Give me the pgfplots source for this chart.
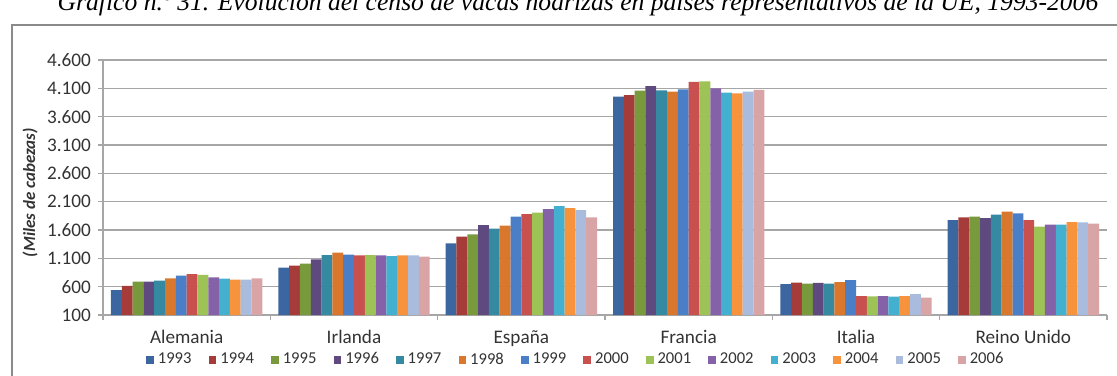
\documentclass[border=0pt]{standalone}
\usepackage{pgfplots}
\pgfplotsset{compat=1.18}
\usepackage{pgfplotstable}
\usepackage{fontspec}
\setmainfont{Carlito}
\newfontfamily\titlefont{Liberation Serif}

% Suckler cow census, thousands of head
\pgfplotstableread{
cat  y1993 y1994 y1995 y1996 y1997 y1998 y1999 y2000 y2001 y2002 y2003 y2004 y2005 y2006
0    541   612   688   688   706   747   794   823   806   765   741   723   723   747
1    935   970   1006  1082  1158  1200  1164  1153  1158  1153  1141  1153  1153  1129
2    1364  1482  1523  1688  1623  1676  1835  1882  1905  1970  2023  1988  1952  1823
3    3953  3982  4059  4141  4065  4041  4082  4212  4224  4100  4024  4012  4041  4071
4    647   670   653   665   653   682   717   435   429   435   423   435   470   406
5    1776  1823  1835  1811  1870  1923  1894  1776  1658  1694  1694  1741  1735  1711
}\censo

\definecolor{c93}{HTML}{3B66A0}
\definecolor{c94}{HTML}{A53C3A}
\definecolor{c95}{HTML}{789A3D}
\definecolor{c96}{HTML}{5F4A80}
\definecolor{c97}{HTML}{3589A0}
\definecolor{c98}{HTML}{D9782C}
\definecolor{c99}{HTML}{4A7FC8}
\definecolor{c00}{HTML}{C8504E}
\definecolor{c01}{HTML}{9DC255}
\definecolor{c02}{HTML}{8562A8}
\definecolor{c03}{HTML}{43B0CF}
\definecolor{c04}{HTML}{F7933C}
\definecolor{c05}{HTML}{A9BCDD}
\definecolor{c06}{HTML}{D9A4A6}
\definecolor{frame}{HTML}{8A8A8A}
\definecolor{gridc}{HTML}{A6A6A6}

\begin{document}
\begin{tikzpicture}[x=0.5pt,y=0.5pt]
% page layout in pixel units, origin at the lower left of the plot area
\begin{scope}[shift={(-103,-60)}]
  \draw[frame, line width=0.8pt] (12,-20) rectangle (1140,350);
  \node[anchor=base, font=\titlefont\itshape\fontsize{12.8}{14}\selectfont] at (578,364)
    {Gráfico n.º 31. Evolución del censo de vacas nodrizas en países representativos de la UE, 1993-2006};
\end{scope}

\begin{axis}[
  scale only axis, width=502pt, height=127.5pt,
  xmin=-0.5, xmax=5.5, ymin=100, ymax=4600,
  ytick={100,600,...,4600},
  ymajorgrids, grid style={gridc, line width=0.6pt},
  axis x line*=bottom, axis y line*=left,
  axis line style={gridc, line width=0.6pt},
  tick align=outside, major tick length=2.5pt,
  tick style={gridc, line width=0.6pt},
  xtick={-0.5,0.5,1.5,2.5,3.5,4.5,5.5}, xticklabels={},
  extra x ticks={0,1,2,3,4,5},
  extra x tick labels={Alemania,Irlanda,España,Francia,Italia,Reino Unido},
  extra x tick style={major tick length=0pt, xticklabel style={anchor=base, yshift=-14pt}},
  ticklabel style={font=\fontsize{9.6}{11}\selectfont, text=black!80},
  /pgf/number format/.cd, 1000 sep={.}, assume math mode=true,
  /pgfplots/.cd,
  ylabel={(Miles de cabezas)},
  ylabel style={at={(axis description cs:-0.0727,0.48)}, anchor=center,
    font=\bfseries\itshape\fontsize{8.5}{10}\selectfont, text=black!80},
  ybar, bar width=0.0646,
  every axis plot/.append style={draw=none},
  legend columns=14,
  legend style={draw=none, fill=none, at={(0.472,-0.176)}, anchor=center,
    font=\fontsize{8.3}{10}\selectfont, text=black!80,
    /tikz/every even column/.append style={column sep=6.6pt},
    /tikz/every odd column/.append style={column sep=0pt}},
  legend image code/.code={\fill[#1] (0pt,-1.9pt) rectangle (3.8pt,1.9pt);},
]
\addplot[fill=c93, bar shift=-0.4199] table[x=cat, y=y1993] {\censo}; \addlegendentry{1993}
\addplot[fill=c94, bar shift=-0.3553] table[x=cat, y=y1994] {\censo}; \addlegendentry{1994}
\addplot[fill=c95, bar shift=-0.2907] table[x=cat, y=y1995] {\censo}; \addlegendentry{1995}
\addplot[fill=c96, bar shift=-0.2261] table[x=cat, y=y1996] {\censo}; \addlegendentry{1996}
\addplot[fill=c97, bar shift=-0.1615] table[x=cat, y=y1997] {\censo}; \addlegendentry{1997}
\addplot[fill=c98, bar shift=-0.0969] table[x=cat, y=y1998] {\censo}; \addlegendentry{1998}
\addplot[fill=c99, bar shift=-0.0323] table[x=cat, y=y1999] {\censo}; \addlegendentry{1999}
\addplot[fill=c00, bar shift=0.0323] table[x=cat, y=y2000] {\censo}; \addlegendentry{2000}
\addplot[fill=c01, bar shift=0.0969] table[x=cat, y=y2001] {\censo}; \addlegendentry{2001}
\addplot[fill=c02, bar shift=0.1615] table[x=cat, y=y2002] {\censo}; \addlegendentry{2002}
\addplot[fill=c03, bar shift=0.2261] table[x=cat, y=y2003] {\censo}; \addlegendentry{2003}
\addplot[fill=c04, bar shift=0.2907] table[x=cat, y=y2004] {\censo}; \addlegendentry{2004}
\addplot[fill=c05, bar shift=0.3553] table[x=cat, y=y2005] {\censo}; \addlegendentry{2005}
\addplot[fill=c06, bar shift=0.4199] table[x=cat, y=y2006] {\censo}; \addlegendentry{2006}
\end{axis}

\pgfresetboundingbox
\path[use as bounding box] (-103,-60) rectangle (1014,315);
\end{tikzpicture}
\end{document}
